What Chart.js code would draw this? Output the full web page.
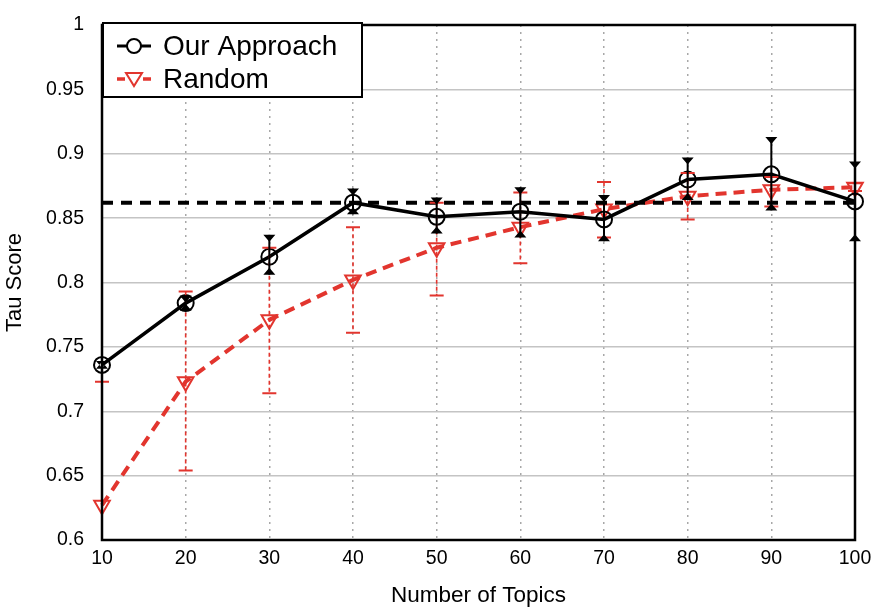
<!DOCTYPE html>
<html lang="en">
<head>
<meta charset="UTF-8">
<title>Tau Score vs Number of Topics</title>
<script src="https://cdn.jsdelivr.net/npm/chart.js"></script>
<style>
    html, body { margin: 0; padding: 0; background: #fff; }
    .wrap { width: 873px; height: 610px; }
</style>
</head>
<body>
<div class="wrap"><canvas id="tauChart" width="873" height="610"></canvas></div>
<script>
// values
const topics = [10, 20, 30, 40, 50, 60, 70, 80, 90, 100];
const oursMean = [0.736, 0.784, 0.820, 0.862, 0.851, 0.855, 0.849, 0.880, 0.884, 0.863];
const oursHigh = [0.739, 0.790, 0.837, 0.873, 0.866, 0.874, 0.868, 0.897, 0.913, 0.894];
const oursLow  = [0.733, 0.778, 0.806, 0.853, 0.838, 0.835, 0.832, 0.864, 0.856, 0.832];
const randomMean = [0.627, 0.723, 0.771, 0.802, 0.827, 0.843, 0.857, 0.867, 0.872, 0.874];
const randomHigh = [0.723, 0.793, 0.827, 0.843, 0.862, 0.870, 0.878, 0.885, 0.882, 0.877];
const randomLow  = [0.530, 0.654, 0.714, 0.761, 0.790, 0.815, 0.835, 0.849, 0.859, 0.871];
const baseline = 0.862;
const seriesNames = ['Our Approach', 'Random'];

const RED = '#e2352e';
Chart.defaults.font.family = '"Liberation Sans", Arial, Helvetica, sans-serif';
Chart.defaults.color = '#000';

// error bars drawn through the chart's scales
const errorBars = {
    id: 'errorBars',
    afterDatasetsDraw(chart) {
        const ctx = chart.ctx;
        const xs = chart.scales.x, ys = chart.scales.y;
        const area = chart.chartArea;
        ctx.save();
        ctx.beginPath();
        ctx.rect(area.left - 20, area.top - 10, area.right - area.left + 40, area.bottom - area.top + 10);
        ctx.clip();
        // random: thin dashed red with flat caps
        ctx.strokeStyle = RED;
        topics.forEach((t, i) => {
            const x = xs.getPixelForValue(t);
            const y1 = ys.getPixelForValue(randomHigh[i]);
            const y2 = ys.getPixelForValue(randomLow[i]);
            ctx.lineWidth = 1.6;
            ctx.setLineDash([4, 3]);
            ctx.beginPath(); ctx.moveTo(x, y1); ctx.lineTo(x, Math.min(y2, area.bottom)); ctx.stroke();
            ctx.setLineDash([]);
            ctx.lineWidth = 2;
            ctx.beginPath();
            ctx.moveTo(x - 7, y1); ctx.lineTo(x + 7, y1);
            ctx.moveTo(x - 7, y2); ctx.lineTo(x + 7, y2);
            ctx.stroke();
        });
        // ours: solid black with triangle caps
        ctx.strokeStyle = '#000';
        ctx.fillStyle = '#000';
        ctx.lineWidth = 2;
        topics.forEach((t, i) => {
            const x = xs.getPixelForValue(t);
            const y1 = ys.getPixelForValue(oursHigh[i]);
            const y2 = ys.getPixelForValue(oursLow[i]);
            ctx.beginPath(); ctx.moveTo(x, y1); ctx.lineTo(x, y2); ctx.stroke();
            ctx.beginPath();
            ctx.moveTo(x - 6, y1); ctx.lineTo(x + 6, y1); ctx.lineTo(x, y1 + 7); ctx.closePath();
            ctx.moveTo(x - 6, y2); ctx.lineTo(x + 6, y2); ctx.lineTo(x, y2 - 7); ctx.closePath();
            ctx.fill();
        });
        ctx.restore();
    }
};

// frame round the plot and boxed legend in the upper left
const frameLegend = {
    id: 'frameLegend',
    afterDraw(chart) {
        const ctx = chart.ctx;
        const a = chart.chartArea;
        ctx.save();
        ctx.strokeStyle = '#000';
        ctx.lineWidth = 2.5;
        ctx.strokeRect(a.left, a.top, a.right - a.left, a.bottom - a.top);

        const bx = a.left + 1, by = a.top - 2, bw = 259, bh = 74;
        ctx.fillStyle = '#fff';
        ctx.fillRect(bx, by, bw, bh);
        ctx.lineWidth = 2;
        ctx.strokeRect(bx, by, bw, bh);

        ctx.font = '28px "Liberation Sans", Arial, sans-serif';
        ctx.textBaseline = 'middle';
        ctx.fillStyle = '#000';
        // row 1
        let ry = by + 23;
        ctx.lineWidth = 3;
        ctx.beginPath(); ctx.moveTo(bx + 14, ry); ctx.lineTo(bx + 48, ry); ctx.stroke();
        ctx.beginPath(); ctx.arc(bx + 31, ry, 7, 0, Math.PI * 2);
        ctx.fillStyle = '#fff'; ctx.fill();
        ctx.lineWidth = 2; ctx.stroke();
        ctx.fillStyle = '#000';
        ctx.fillText(seriesNames[0], bx + 60, ry + 1);
        // row 2
        ry = by + 56;
        ctx.strokeStyle = RED;
        ctx.lineWidth = 3.5;
        ctx.beginPath();
        ctx.moveTo(bx + 14, ry); ctx.lineTo(bx + 22, ry);
        ctx.moveTo(bx + 40, ry); ctx.lineTo(bx + 48, ry);
        ctx.stroke();
        ctx.lineWidth = 2;
        ctx.beginPath();
        ctx.moveTo(bx + 23, ry - 6); ctx.lineTo(bx + 39, ry - 6); ctx.lineTo(bx + 31, ry + 7); ctx.closePath();
        ctx.fillStyle = '#fff'; ctx.fill(); ctx.stroke();
        ctx.fillStyle = '#000';
        ctx.fillText(seriesNames[1], bx + 60, ry + 1);
        ctx.restore();
    }
};

const ctx = document.getElementById('tauChart').getContext('2d');
const tauChart = new Chart(ctx, {
    type: 'line',
    data: {
        datasets: [
            {
                label: seriesNames[0],
                data: topics.map((t, i) => ({ x: t, y: oursMean[i] })),
                borderColor: '#000',
                borderWidth: 3.5,
                pointStyle: 'circle',
                pointRadius: 8,
                pointBorderWidth: 2,
                pointBackgroundColor: 'rgba(255,255,255,0)',
                pointBorderColor: '#000',
                clip: false,
                order: 1
            },
            {
                label: seriesNames[1],
                data: topics.map((t, i) => ({ x: t, y: randomMean[i] })),
                borderColor: RED,
                borderWidth: 4,
                borderDash: [11, 7],
                pointStyle: 'triangle',
                rotation: 180,
                pointRadius: 9,
                pointBorderWidth: 2,
                pointBackgroundColor: 'rgba(255,255,255,0)',
                pointBorderColor: RED,
                clip: false,
                order: 3
            },
            {
                label: 'baseline',
                data: [{ x: topics[0], y: baseline }, { x: topics[topics.length - 1], y: baseline }],
                borderColor: '#000',
                borderWidth: 4,
                borderDash: [11, 8],
                pointRadius: 0,
                order: 2
            }
        ]
    },
    options: {
        responsive: false,
        animation: false,
        layout: { padding: { top: 25, right: 18, left: 0, bottom: 0 } },
        plugins: {
            legend: { display: false },
            tooltip: { enabled: false }
        },
        scales: {
            x: {
                type: 'linear',
                min: 10,
                max: 100,
                afterFit(scale) {
                    scale.height = 70;
                    scale.paddingLeft = 0;
                    scale.paddingRight = 0;
                },
                ticks: { stepSize: 10, padding: 7, font: { size: 19.5 } },
                grid: { color: '#a8a8a8', lineWidth: 1.5, drawTicks: false },
                border: { display: false, dash: [2, 5] },
                title: { display: true, text: 'Number of Topics', font: { size: 22.5 }, padding: { top: 0, bottom: 1 } }
            },
            y: {
                min: 0.6,
                max: 1,
                afterFit(scale) {
                    scale.width = 102;
                    scale.paddingTop = 0;
                    scale.paddingBottom = 0;
                },
                ticks: {
                    stepSize: 0.05,
                    padding: 18,
                    font: { size: 19.5 },
                    callback: v => String(parseFloat(v.toFixed(2)))
                },
                grid: { color: '#c4c4c4', lineWidth: 1.5, drawTicks: false },
                border: { display: false },
                title: { display: true, text: 'Tau Score', font: { size: 22 }, padding: { top: 2, bottom: 0 } }
            }
        }
    },
    plugins: [errorBars, frameLegend]
});
</script>
</body>
</html>
